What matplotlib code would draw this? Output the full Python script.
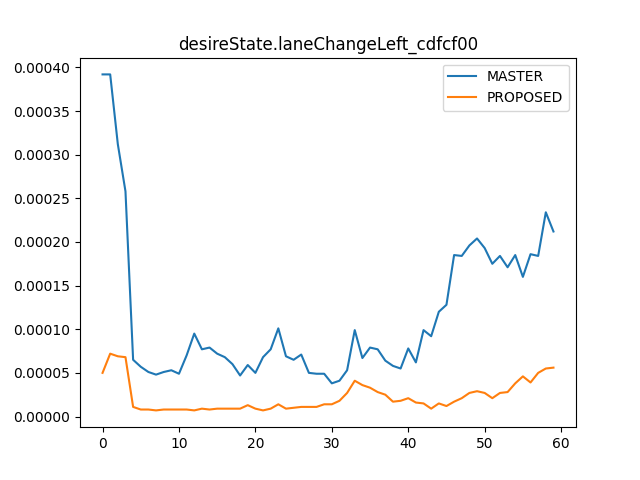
import matplotlib
matplotlib.use('Agg')
import matplotlib.pyplot as plt
import numpy as np

title = 'desireState.laneChangeLeft_cdfcf00'

master = [0.000392, 0.000392, 0.000312, 0.000258, 0.000065, 0.000057, 0.000051, 0.000048,
          0.000051, 0.000053, 0.000049, 0.000070, 0.000095, 0.000077, 0.000079, 0.000072,
          0.000068, 0.000060, 0.000047, 0.000059, 0.000050, 0.000068, 0.000077, 0.000101,
          0.000069, 0.000065, 0.000071, 0.000050, 0.000049, 0.000049, 0.000038, 0.000041,
          0.000053, 0.000099, 0.000067, 0.000079, 0.000077, 0.000064, 0.000058, 0.000055,
          0.000078, 0.000062, 0.000099, 0.000092, 0.000120, 0.000128, 0.000185, 0.000184,
          0.000196, 0.000204, 0.000193, 0.000175, 0.000184, 0.000171, 0.000185, 0.000160,
          0.000186, 0.000184, 0.000234, 0.000212]

proposed = [0.000050, 0.000072, 0.000069, 0.000068, 0.000011, 0.000008, 0.000008, 0.000007,
            0.000008, 0.000008, 0.000008, 0.000008, 0.000007, 0.000009, 0.000008, 0.000009,
            0.000009, 0.000009, 0.000009, 0.000013, 0.000009, 0.000007, 0.000009, 0.000014,
            0.000009, 0.000010, 0.000011, 0.000011, 0.000011, 0.000014, 0.000014, 0.000018,
            0.000027, 0.000041, 0.000036, 0.000033, 0.000028, 0.000025, 0.000017, 0.000018,
            0.000021, 0.000016, 0.000015, 0.000009, 0.000015, 0.000012, 0.000017, 0.000021,
            0.000027, 0.000029, 0.000027, 0.000021, 0.000027, 0.000028, 0.000038, 0.000046,
            0.000039, 0.000050, 0.000055, 0.000056]

x = np.arange(len(master))

fig, ax = plt.subplots(figsize=(6.4, 4.8), dpi=100)
ax.plot(x, master, label='MASTER')
ax.plot(x, proposed, label='PROPOSED')
ax.set_title(title)
ax.legend()

fig.savefig('out.png')
